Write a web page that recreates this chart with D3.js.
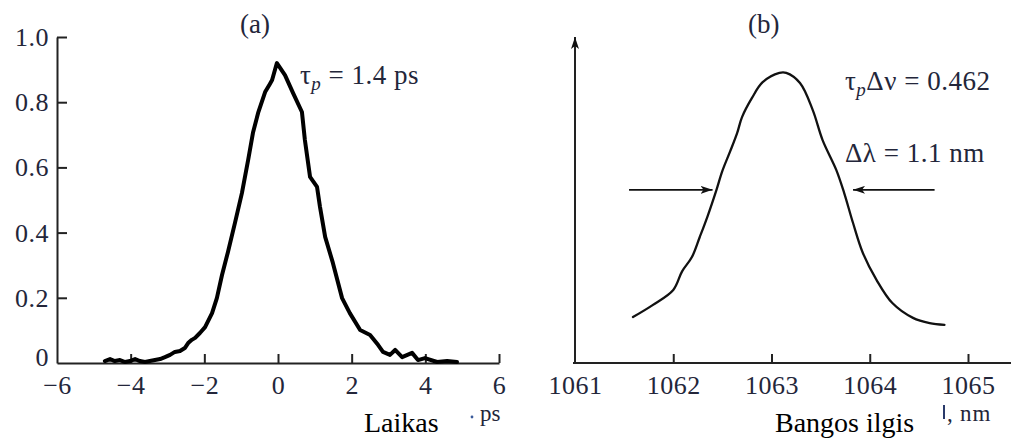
<!DOCTYPE html>
<html>
<head>
<meta charset="utf-8">
<script src="https://cdn.jsdelivr.net/npm/d3@7"></script>
<style>
    body { margin: 0; background: #fff; }
    svg { display: block; }
</style>
</head>
<body>
<div id="chart"></div>
<script>
// panel (a): pulse intensity vs time (ps)
let timePs = [-4.70, -4.56, -4.43, -4.29, -4.15, -4.02, -3.88, -3.75, -3.61, -3.48, -3.34, -3.20,
    -3.07, -2.93, -2.80, -2.66, -2.53, -2.44, -2.34, -2.25, -2.12, -1.98, -1.79, -1.66, -1.52,
    -1.36, -1.17, -0.98, -0.81, -0.68, -0.54, -0.35, -0.22, -0.16, -0.03, 0.19, 0.41, 0.65, 0.73,
    0.87, 1.06, 1.14, 1.28, 1.49, 1.74, 1.95, 2.23, 2.50, 2.72, 2.85, 3.04, 3.18, 3.37, 3.64,
    3.80, 3.99, 4.32, 4.59, 4.86];
let pulseIntensity = [0.006, 0.012, 0.006, 0.009, 0.003, 0.006, 0.012, 0.006, 0.003, 0.006, 0.009, 0.012,
    0.018, 0.025, 0.034, 0.037, 0.046, 0.061, 0.071, 0.077, 0.092, 0.110, 0.153, 0.199, 0.270,
    0.340, 0.429, 0.521, 0.623, 0.706, 0.767, 0.831, 0.856, 0.868, 0.920, 0.883, 0.828, 0.770, 0.684,
    0.571, 0.540, 0.479, 0.387, 0.307, 0.199, 0.153, 0.101, 0.086, 0.055, 0.034, 0.025, 0.040, 0.018, 0.031,
    0.009, 0.015, 0.003, 0.006, 0.003];

// panel (b): spectrum vs wavelength (nm), arbitrary units
let wavelengthNm = [1061.59, 1061.79, 1062.00, 1062.09, 1062.19, 1062.27, 1062.35, 1062.44, 1062.50,
    1062.58, 1062.65, 1062.70, 1062.80, 1062.91, 1063.08, 1063.15, 1063.29, 1063.42, 1063.52,
    1063.66, 1063.74, 1063.83, 1063.93, 1064.07, 1064.23, 1064.44, 1064.61, 1064.76];
let spectrum = [0.158, 0.199, 0.251, 0.315, 0.364, 0.433, 0.505, 0.595, 0.660,
    0.728, 0.790, 0.845, 0.910, 0.965, 0.997, 0.997, 0.962, 0.869, 0.766,
    0.663, 0.584, 0.481, 0.378, 0.285, 0.206, 0.155, 0.137, 0.131];

// ticks
let timeTicks = [-6, -4, -2, 0, 2, 4, 6];
let intensityTicks = [0, 0.2, 0.4, 0.6, 0.8, 1.0];
let wavelengthTicks = [1061, 1062, 1063, 1064, 1065];

// FWHM arrows (start -> tip), in data units
let fwhmArrows = [
    {from: 1061.55, to: 1062.40, level: 0.595},
    {from: 1064.66, to: 1063.83, level: 0.595}
];

let width = 1011, height = 441;
let serif = "'Liberation Serif', 'Times New Roman', serif";
let textColor = "#23263a";

let svg = d3.select("#chart").append("svg")
    .attr("width", width)
    .attr("height", height);

let defs = svg.append("defs");
defs.append("marker")
    .attr("id", "head")
    .attr("viewBox", "0 0 12 8")
    .attr("refX", 12).attr("refY", 4)
    .attr("markerWidth", 12).attr("markerHeight", 8)
    .attr("markerUnits", "userSpaceOnUse")
    .attr("orient", "auto")
    .append("path")
    .attr("d", "M0,0 L12,4 L0,8 L3,4 Z")
    .attr("fill", "#111");

// helper for plain labels
function label(g, x, y, txt, size, color) {
    return g.append("text")
        .attr("x", x).attr("y", y)
        .attr("font-family", serif)
        .attr("font-size", size)
        .attr("fill", color)
        .text(txt);
}

/* ---------- panel (a) ---------- */
let xA = d3.scaleLinear().domain([-6, 6]).range([57, 499]);
let yA = d3.scaleLinear().domain([0, 1]).range([363, 37]);

let gA = svg.append("g");

let xAxisA = d3.axisBottom(xA)
    .tickValues(timeTicks)
    .tickSizeInner(-9)
    .tickSizeOuter(0)
    .tickFormat(d => d < 0 ? "\u2212" + Math.abs(d) : d);

gA.append("g")
    .attr("class", "x-axis")
    .attr("transform", "translate(0," + yA(0) + ")")
    .call(xAxisA)
    .call(g => g.selectAll(".tick line").filter(d => d === -6).remove());

let yAxisA = d3.axisLeft(yA)
    .tickValues(intensityTicks)
    .tickSizeInner(-10)
    .tickSizeOuter(0)
    .tickFormat(d => d === 0 ? "0" : d.toFixed(1));

gA.append("g")
    .attr("class", "y-axis")
    .attr("transform", "translate(" + xA(-6) + ",0)")
    .call(yAxisA)
    .call(g => g.selectAll(".tick line").filter(d => d === 0).remove());

let lineA = d3.line()
    .x((d, i) => xA(timePs[i]))
    .y(d => yA(d));

gA.append("path")
    .datum(pulseIntensity)
    .attr("d", lineA)
    .attr("fill", "none")
    .attr("stroke", "#000")
    .attr("stroke-width", 4)
    .attr("stroke-linejoin", "round")
    .attr("stroke-linecap", "round");

label(gA, 240, 33, "(a)", 27, textColor);

let tauA = label(gA, 300, 84, "", 27, textColor).attr("letter-spacing", 0.5);
tauA.append("tspan").text("\u03c4");
tauA.append("tspan").attr("font-style", "italic").attr("font-size", 19)
    .attr("dy", 6).text("p");
tauA.append("tspan").attr("dy", -6).text(" = 1.4 ps");

label(gA, 364, 432, "Laikas", 28, "#000");
gA.append("circle").attr("cx", 472).attr("cy", 417).attr("r", 1.4).attr("fill", "#3a5a9a");
label(gA, 480, 421, "ps", 23, textColor);

/* ---------- panel (b) ---------- */
let xB = d3.scaleLinear().domain([1061, 1065]).range([575, 968]);
let yB = d3.scaleLinear().domain([0, 1]).range([363, 72]);

let gB = svg.append("g");

let xAxisB = d3.axisBottom(xB)
    .tickValues(wavelengthTicks)
    .tickSizeInner(-9)
    .tickSizeOuter(0)
    .tickFormat(d3.format("d"));

gB.append("g")
    .attr("class", "x-axis")
    .attr("transform", "translate(0," + yB(0) + ")")
    .call(xAxisB)
    .call(g => g.select(".domain").attr("d", "M" + (xB(1061) - 2) + ",0H" + width))
    .call(g => g.selectAll(".tick line").filter(d => d === 1061).remove());

// y axis with arrow, no ticks
gB.append("line")
    .attr("x1", xB(1061)).attr("x2", xB(1061))
    .attr("y1", yB(0)).attr("y2", 37)
    .attr("stroke", "#222").attr("stroke-width", 2)
    .attr("marker-end", "url(#head)");

let lineB = d3.line()
    .x((d, i) => xB(wavelengthNm[i]))
    .y(d => yB(d))
    .curve(d3.curveCatmullRom);

gB.append("path")
    .datum(spectrum)
    .attr("d", lineB)
    .attr("fill", "none")
    .attr("stroke", "#111")
    .attr("stroke-width", 2.3)
    .attr("stroke-linecap", "round");

gB.selectAll(".fwhm")
    .data(fwhmArrows)
    .enter()
    .append("line")
    .attr("class", "fwhm")
    .attr("x1", d => xB(d.from)).attr("x2", d => xB(d.to))
    .attr("y1", d => yB(d.level)).attr("y2", d => yB(d.level))
    .attr("stroke", "#111").attr("stroke-width", 1.8)
    .attr("marker-end", "url(#head)");

label(gB, 748, 33, "(b)", 27, textColor);

let tauB = label(gB, 845, 90, "", 27, textColor).attr("letter-spacing", 0.5);
tauB.append("tspan").text("\u03c4");
tauB.append("tspan").attr("font-style", "italic").attr("font-size", 19)
    .attr("dy", 6).text("p");
tauB.append("tspan").attr("dy", -6).text("\u0394\u03bd = 0.462");

label(gB, 845, 162, "\u0394\u03bb = 1.1 nm", 27, textColor).attr("letter-spacing", 0.5);

label(gB, 775, 432, "Bangos ilgis", 28, "#000");
gB.append("rect").attr("x", 943).attr("y", 405).attr("width", 2).attr("height", 14).attr("fill", "#2a3a6a");
label(gB, 947, 421, ", nm", 23, textColor).attr("letter-spacing", 0.8);

/* ---------- shared axis styling ---------- */
svg.selectAll(".domain").attr("stroke", "#222").attr("stroke-width", 2);
svg.selectAll(".tick line").attr("stroke", "#222").attr("stroke-width", 2);
svg.selectAll(".x-axis, .y-axis")
    .attr("font-family", serif)
    .attr("font-size", 26);
svg.selectAll(".tick text").attr("fill", textColor).attr("letter-spacing", 0.5);
svg.selectAll(".x-axis .tick text").attr("y", 31).attr("dy", 0);
svg.selectAll(".y-axis .tick text").attr("x", -8).attr("dy", "0.33em");
// keep the "0" clear of the "−6" below it
svg.selectAll(".y-axis .tick text").filter(d => d === 0).attr("dy", 2);
</script>
</body>
</html>
